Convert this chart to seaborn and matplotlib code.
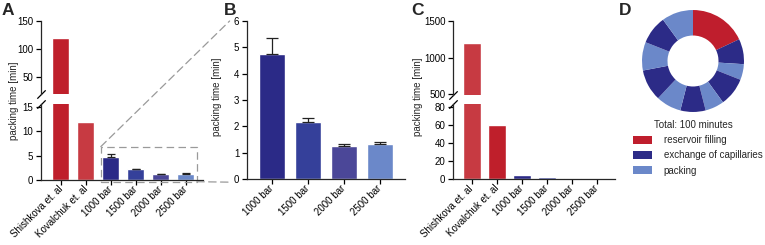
import numpy as np
import pandas as pd
import matplotlib
matplotlib.use("Agg")
import matplotlib.pyplot as plt
import seaborn as sns
from matplotlib.patches import Rectangle, ConnectionPatch, Patch

# ---------------- data ----------------
literature = ["Shishkova et. al", "Kovalchuk et. al"]
pressures = ["1000 bar", "1500 bar", "2000 bar", "2500 bar"]
packing_mean = [4.74, 2.18, 1.26, 1.32]
packing_err = [0.63, 0.12, 0.07, 0.08]
literature_time_A = [120, 12]
literature_time_C = [1200, 60]
pressure_time_C = [4.74, 2.18, 1.26, 1.32]

ticks_A_upper = [50, 100, 150]
ticks_A_lower = [0, 5, 10, 15]
ticks_B = [0, 1, 2, 3, 4, 5, 6]
ticks_C_upper = [500, 1000, 1500]
ticks_C_lower = [0, 20, 40, 60, 80]

donut_steps = ["reservoir filling", "exchange of capillaries", "packing",
               "exchange of capillaries", "packing", "exchange of capillaries",
               "packing", "exchange of capillaries", "packing",
               "exchange of capillaries", "packing"]
donut_minutes = [18, 8, 5, 9, 6, 8, 8, 10, 9, 9, 10]

step_colors = {"reservoir filling": "#bf1e2d",
               "exchange of capillaries": "#2c2b87",
               "packing": "#6b88c9"}
pressure_colors = ["#2b2a87", "#35409a", "#4b4798", "#6b88c9"]
colors_A = ["#bf1f2b", "#c73a42"] + pressure_colors
colors_C = ["#c73a42", "#bf1f2b"] + pressure_colors

# ---------------- style ----------------
sns.set_theme(style="ticks")
plt.rcParams["font.family"] = ["Liberation Sans", "DejaVu Sans"]
plt.rcParams["axes.linewidth"] = 0.9

W, H = 765, 245
fig = plt.figure(figsize=(W / 100, H / 100), dpi=100)


def px_axes(x0, y0, x1, y1):
    return fig.add_axes([x0 / W, 1 - y1 / H, (x1 - x0) / W, (y1 - y0) / H])


def style_axis(ax):
    ax.tick_params(direction="out", length=3.5, width=0.9, labelsize=7, pad=2,
                   colors="black")
    for s in ("top", "right"):
        ax.spines[s].set_visible(False)
    ax.set_xlabel("")
    ax.set_ylabel("")


def rotate_xlabels(ax):
    for lab in ax.get_xticklabels():
        lab.set_rotation(45)
        lab.set_ha("right")
        lab.set_va("center")
        lab.set_rotation_mode("anchor")


def break_mark(ax, y):
    ax.plot([0], [y], transform=ax.transAxes, marker=[(-1, -1), (1, 1)],
            markersize=6, markeredgewidth=0.9, color="black", clip_on=False)


def upper_errors(ax, means, errs, offset, capsize):
    pos = np.arange(len(means)) + offset
    ax.errorbar(pos, means, yerr=[np.zeros(len(errs)), errs], fmt="none",
                ecolor="#222222", elinewidth=0.9, capsize=capsize,
                capthick=0.9)


# ---------------- panel A ----------------
df_A = pd.DataFrame({"cat": literature + pressures,
                     "val": literature_time_A + packing_mean})
axAu = px_axes(41, 21, 203, 94)
axAl = px_axes(41, 104, 203, 180)
for ax in (axAu, axAl):
    sns.barplot(data=df_A, x="cat", y="val", hue="cat", palette=colors_A,
                legend=False, width=0.68, saturation=1, ax=ax)
    style_axis(ax)
    ax.set_xlim(-0.8, 5.7)
upper_errors(axAl, packing_mean, packing_err, len(literature), 2.6)
axAu.set_ylim(20, 150)
axAu.set_yticks(ticks_A_upper)
axAu.spines["bottom"].set_visible(False)
axAu.tick_params(axis="x", bottom=False, labelbottom=False)
axAl.set_ylim(0, 15.6)
axAl.set_yticks(ticks_A_lower)
rotate_xlabels(axAl)
break_mark(axAu, 0.0)
break_mark(axAl, 1.0)

rect = Rectangle((1.6, -0.35), 3.85, 7.2, fill=False, ls=(0, (6, 3.5)),
                 edgecolor="#9a9a9a", lw=0.9, clip_on=False,
                 transform=axAl.transData)
axAl.add_artist(rect)

# ---------------- panel B ----------------
df_B = pd.DataFrame({"cat": pressures, "val": packing_mean})
axB = px_axes(247, 21, 405, 179)
sns.barplot(data=df_B, x="cat", y="val", hue="cat", palette=pressure_colors,
            legend=False, width=0.72, saturation=1, ax=axB)
style_axis(axB)
upper_errors(axB, packing_mean, packing_err, 0, 4.5)
axB.set_ylim(0, 6)
axB.set_yticks(ticks_B)
axB.set_xlim(-0.68, 3.7)
rotate_xlabels(axB)

for xyA, xyB in (((1.6, 6.85), (-0.11, 1.0)), ((5.45, -0.35), (-0.11, -0.02))):
    con = ConnectionPatch(xyA=xyA, coordsA=axAl.transData,
                          xyB=xyB, coordsB=axB.transAxes,
                          ls=(0, (6, 3.5)), color="#9a9a9a", lw=0.9)
    fig.add_artist(con)

# ---------------- panel C ----------------
df_C = pd.DataFrame({"cat": literature + pressures,
                     "val": literature_time_C + pressure_time_C})
axCu = px_axes(453, 21, 615, 95)
axCl = px_axes(453, 104, 615, 179.3)
for ax in (axCu, axCl):
    sns.barplot(data=df_C, x="cat", y="val", hue="cat", palette=colors_C,
                legend=False, width=0.7, saturation=1, ax=ax)
    style_axis(ax)
    ax.set_xlim(-0.75, 5.7)
axCu.set_ylim(490, 1500)
axCu.set_yticks(ticks_C_upper)
axCu.spines["bottom"].set_visible(False)
axCu.tick_params(axis="x", bottom=False, labelbottom=False)
axCl.set_ylim(0, 83)
axCl.set_yticks(ticks_C_lower)
rotate_xlabels(axCl)
break_mark(axCu, 0.0)
break_mark(axCl, 1.0)

# ---------------- panel D ----------------
axD = px_axes(641, 9, 745, 113)
axD.pie(donut_minutes, colors=[step_colors[s] for s in donut_steps],
        startangle=90, counterclock=False, radius=1,
        wedgeprops=dict(width=0.5, edgecolor="none"))
axD.set_xlim(-1.02, 1.02)
axD.set_ylim(-1.02, 1.02)
axD.set_aspect("equal")
axD.axis("off")

fig.text(693 / W, 1 - 125 / H, f"Total: {sum(donut_minutes)} minutes",
         ha="center", va="center", fontsize=7)
handles = [Patch(facecolor=c, edgecolor="none") for c in step_colors.values()]
fig.legend(handles, list(step_colors.keys()), loc="upper left",
           bbox_to_anchor=(633 / W, 1 - 135 / H), frameon=False, fontsize=7,
           handlelength=1.95, handleheight=0.93, handletextpad=1.2,
           labelspacing=0.55, borderpad=0, borderaxespad=0)

# ---------------- labels ----------------
for x, y in ((14, 101), (217, 97), (418, 97)):
    fig.text(x / W, 1 - y / H, "packing time [min]", rotation=90,
             ha="center", va="center", fontsize=7)
for x, lab in ((2, "A"), (224, "B"), (411, "C"), (619, "D")):
    fig.text(x / W, 1 - 3 / H, lab, fontsize=12.5, weight="bold",
             ha="left", va="top")

fig.savefig("out.png", dpi=100)
